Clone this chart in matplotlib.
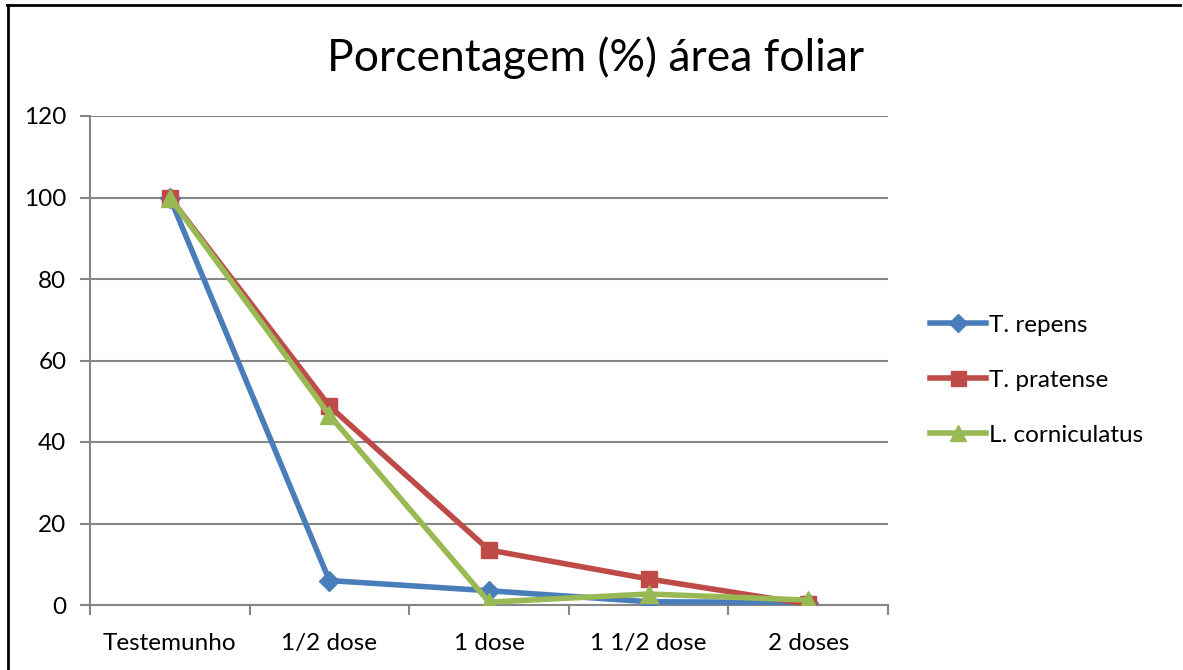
import matplotlib.pyplot as plt
from matplotlib.lines import Line2D

plt.rcParams['font.family'] = ['Lato', 'DejaVu Sans']

doses = ['Testemunho', '1/2 dose', '1 dose', '1 1/2 dose', '2 doses']
t_repens = [100, 6.0, 3.5, 0.8, 0.6]
t_pratense = [100, 48.8, 13.5, 6.4, 0.2]
l_corniculatus = [100, 46.6, 0.7, 2.7, 1.2]

fig = plt.figure(figsize=(11.83, 6.70), dpi=100)
ax = fig.add_axes([90 / 1183, 65 / 670, 798 / 1183, 489 / 670])

x = list(range(len(doses)))
ax.plot(x, t_repens, color='#4A7EBB', lw=4, marker='D', ms=10,
        label='T. repens', zorder=3)
ax.plot(x, t_pratense, color='#BE4B48', lw=4, marker='s', ms=12,
        label='T. pratense', zorder=4)
ax.plot(x, l_corniculatus, color='#98B954', lw=4, marker='^', ms=13,
        label='L. corniculatus', zorder=5)

ax.set_xlim(-0.5, len(doses) - 0.5)
ax.set_ylim(0, 120)
ax.set_yticks(range(0, 121, 20))
ax.set_xticks(x)
ax.set_xticklabels(doses)
# category boundary ticks on the x axis
ax.set_xticks([i - 0.5 for i in range(len(doses) + 1)], minor=True)
ax.tick_params(axis='x', which='major', length=0, pad=20, labelsize=17.5)
ax.tick_params(axis='x', which='minor', length=7, width=1.5, color='#868686')
ax.tick_params(axis='y', length=7, width=1.5, color='#868686', labelsize=17.5, pad=10)

ax.grid(axis='y', color='#868686', lw=1.5)
ax.set_axisbelow(True)
for side in ['top', 'right']:
    ax.spines[side].set_visible(False)
for side in ['left', 'bottom']:
    ax.spines[side].set_color('#868686')
    ax.spines[side].set_linewidth(1.5)

fig.text(596 / 1183, 1 - 58 / 670, 'Porcentagem (%) área foliar',
         ha='center', va='center', fontsize=32)

ax.legend(loc='center left', bbox_to_anchor=(1.025, 0.46), frameon=False,
          fontsize=17.5, handlelength=2.3, handletextpad=0.15,
          labelspacing=1.4, markerscale=0.9)

# page frame lines on the left and top
fig.add_artist(Line2D([8 / 1183, 8 / 1183], [0, 1 - 5 / 670],
                      color='black', lw=2, transform=fig.transFigure))
fig.add_artist(Line2D([7 / 1183, 1180 / 1183], [1 - 5 / 670, 1 - 5 / 670],
                      color='black', lw=2, transform=fig.transFigure))

fig.savefig('out.png', dpi=100)
